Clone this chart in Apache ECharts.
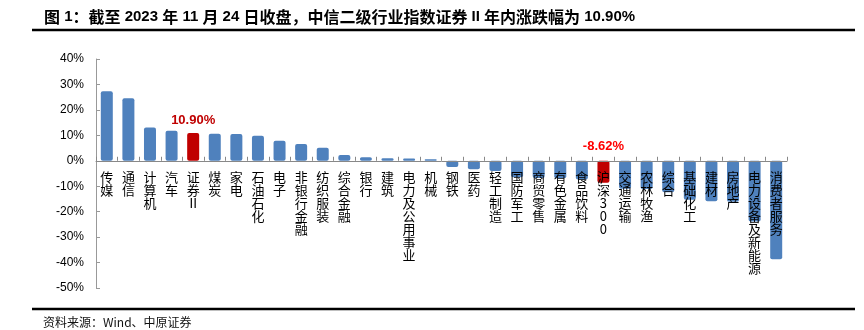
<!DOCTYPE html>
<html><head><meta charset="utf-8">
<script src="https://cdn.jsdelivr.net/npm/echarts@6/dist/echarts.min.js"></script>
<style>html,body{margin:0;padding:0;background:#fff}#c{width:864px;height:330px}</style>
</head><body><div id="c"></div>
<script>
const categories = ['传媒','通信','计算机','汽车','证券Ⅱ','煤炭','家电','石油石化','电子','非银行金融','纺织服装','综合金融','银行','建筑','电力及公用事业','机械','钢铁','医药','轻工制造','国防军工','商贸零售','有色金属','食品饮料','沪深300','交通运输','农林牧渔','综合','基础化工','建材','房地产','电力设备及新能源','消费者服务'];
const values = [27.3,24.6,13.1,11.8,10.90,10.6,10.5,9.8,7.9,6.6,5.1,2.3,1.4,1.0,0.9,0.6,-2.4,-3.3,-4.0,-6.5,-6.8,-6.9,-7.4,-8.62,-11.0,-11.1,-12.4,-15.3,-15.9,-16.1,-23.9,-38.7];
const yTicks = {min:-50, max:40, interval:10};
const highlightA = '证券Ⅱ';
const highlightB = '沪深300';
const titleText = '图 1：截至 2023 年 11 月 24 日收盘，中信二级行业指数证券 II 年内涨跌幅为 10.90%';

function richTitle(s){
  let out = '', run = '';
  const flush = ()=>{ if(run){ out += '{l|'+run+'}'; run=''; } };
  for (const ch of s){
    if (/[\u3000-\u9fff\uff00-\uffef]/.test(ch)){ flush(); out += '{c|'+ch+'}'; }
    else run += ch;
  }
  flush();
  return out;
}

const gridTop = 59, gridBottom = 42, H = 330;
const gridH = H - gridTop - gridBottom;
const zeroOffset = -gridH * (0 - yTicks.min) / (yTicks.max - yTicks.min);

const chart = echarts.init(document.getElementById('c'), null, {renderer:'canvas'});
const data = values.map((v,i)=>{
  const c = categories[i];
  if (c === highlightA) return {value:v, itemStyle:{color:'#C00000'}, label:{show:true, position:'top', distance:6, formatter:v.toFixed(2)+'%', color:'#C00000', fontWeight:'bold', fontSize:13, fontFamily:'Liberation Sans'}};
  if (c === highlightB) return {value:v, itemStyle:{color:'#C00000'}, label:{show:true, position:'top', distance:8, formatter:v.toFixed(2)+'%', color:'#FF0000', fontWeight:'bold', fontSize:13, fontFamily:'Liberation Sans'}};
  return {value:v};
});
chart.setOption({
  backgroundColor:'#fff',
  animation:false,
  grid:{left:96, right:77, top:gridTop, bottom:gridBottom, containLabel:false, outerBoundsMode:'none'},
  xAxis:{type:'category', data:categories, offset:zeroOffset, z:10,
    axisLine:{onZero:false, lineStyle:{color:'#888', width:1}},
    axisTick:{show:true, inside:true, length:4, alignWithLabel:false, lineStyle:{color:'#888'}},
    axisLabel:{interval:0, margin:10, color:'#000', fontSize:13, lineHeight:13, fontFamily:'Noto Sans CJK SC',
      formatter:(s)=>s.split('').join('\n')}
  },
  yAxis:{type:'value', min:yTicks.min, max:yTicks.max, interval:yTicks.interval,
    splitLine:{show:false},
    axisLine:{show:true, lineStyle:{color:'#999'}},
    axisTick:{show:true, inside:true, length:4, lineStyle:{color:'#999'}},
    axisLabel:{formatter:'{value}%', color:'#000', fontSize:12, fontFamily:'Liberation Sans', margin:12}
  },
  series:[{type:'bar', data:data, barWidth:12, z:2, itemStyle:{color:'#4F81BD', borderRadius:2}}],
  graphic:[
    {type:'text', left:44, top:9, style:{text:richTitle(titleText), rich:{
      c:{fontFamily:'"Noto Sans CJK SC"', fontWeight:'bold', fontSize:16, fill:'#000', lineHeight:18},
      l:{fontFamily:'"Liberation Sans"', fontWeight:'bold', fontSize:15, fill:'#000', lineHeight:18}
    }}},
    {type:'line', shape:{x1:32, y1:30, x2:855, y2:30}, style:{stroke:'#000', lineWidth:2.5}},
    {type:'line', shape:{x1:32, y1:309, x2:855, y2:309}, style:{stroke:'#000', lineWidth:2.5}},
    {type:'text', left:43, top:316, style:{text:'资料来源：Wind、中原证券', font:'12px "Noto Sans CJK SC"', fill:'#111'}}
  ]
});
</script></body></html>
